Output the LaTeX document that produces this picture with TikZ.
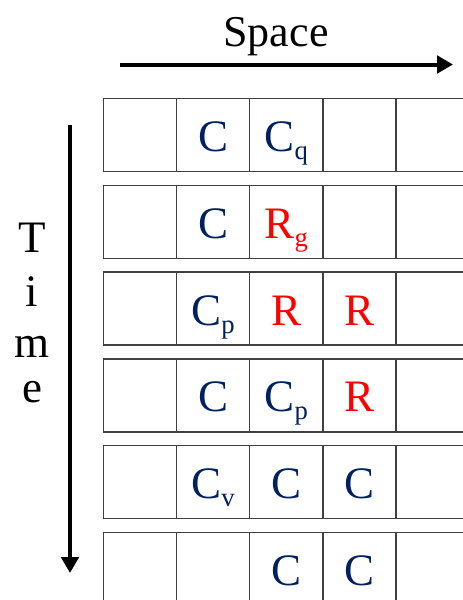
\documentclass[tikz,border=0pt]{standalone}
\usepackage{fontspec}
\setmainfont{Liberation Serif}
\usetikzlibrary{arrows.meta}
\definecolor{navy}{RGB}{0,32,96}
\definecolor{redtxt}{RGB}{255,0,0}
\newcommand{\sub}[1]{\raisebox{-6pt}{\fontsize{20pt}{20pt}\selectfont #1}}
\tikzset{
  cell/.style={draw=black!75, line width=1.1pt, minimum width=54.8pt, minimum height=54.75pt, inner sep=0pt, outer sep=0pt},
  big/.style={font=\fontsize{33.75pt}{36pt}\selectfont, inner sep=0pt, anchor=base},
  cl/.style={big, text=navy},
  rl/.style={big, text=redtxt},
  axis/.style={line width=3pt, -{Triangle[length=12pt, width=13pt]}},
}
\begin{document}
\begin{tikzpicture}[x=0.75pt, y=-0.75pt]
\useasboundingbox (0,0) rectangle (463,600);
\clip (0,0) rectangle (463,600);
% grid of cells
\foreach \i in {1,...,6} {
  \foreach \j in {1,...,5} {
    \node[cell] (c-\i-\j) at ({140+(\j-1)*73.1}, {135+(\i-1)*86.8}) {};
  }
}
% cell labels
\node[cl] (t-1-2) at ([yshift=-12.4pt]c-1-2.center) {C};
\node[cl] (t-1-3) at ([yshift=-12.4pt]c-1-3.center) {C\sub{q}};
\node[cl] (t-2-2) at ([yshift=-12.4pt]c-2-2.center) {C};
\node[rl] (t-2-3) at ([yshift=-12.4pt]c-2-3.center) {R\sub{g}};
\node[cl] (t-3-2) at ([yshift=-12.4pt]c-3-2.center) {C\sub{p}};
\node[rl] (t-3-3) at ([yshift=-12.4pt]c-3-3.center) {R};
\node[rl] (t-3-4) at ([yshift=-12.4pt]c-3-4.center) {R};
\node[cl] (t-4-2) at ([yshift=-12.4pt]c-4-2.center) {C};
\node[cl] (t-4-3) at ([yshift=-12.4pt]c-4-3.center) {C\sub{p}};
\node[rl] (t-4-4) at ([yshift=-12.4pt]c-4-4.center) {R};
\node[cl] (t-5-2) at ([yshift=-12.4pt]c-5-2.center) {C\sub{v}};
\node[cl] (t-5-3) at ([yshift=-12.4pt]c-5-3.center) {C};
\node[cl] (t-5-4) at ([yshift=-12.4pt]c-5-4.center) {C};
\node[cl] (t-6-3) at ([yshift=-12.4pt]c-6-3.center) {C};
\node[cl] (t-6-4) at ([yshift=-12.4pt]c-6-4.center) {C};
% Space axis
\node[font=\fontsize{33pt}{36pt}\selectfont, inner sep=0pt, anchor=base] (space) at (276,46) {Space};
\coordinate (sx0) at (120,64.5);
\coordinate (sx1) at (453,64.5);
\draw[axis] (sx0) -- (sx1);
% Time axis
\coordinate (tx0) at (70,125);
\coordinate (tx1) at (70,573);
\draw[axis] (tx0) -- (tx1);
\node[big] (tT) at (32,252) {T};
\node[big] (ti) at (32,306.5) {i};
\node[big] (tm) at (32,357.5) {m};
\node[big] (te) at (32,402.5) {e};
\end{tikzpicture}
\end{document}
